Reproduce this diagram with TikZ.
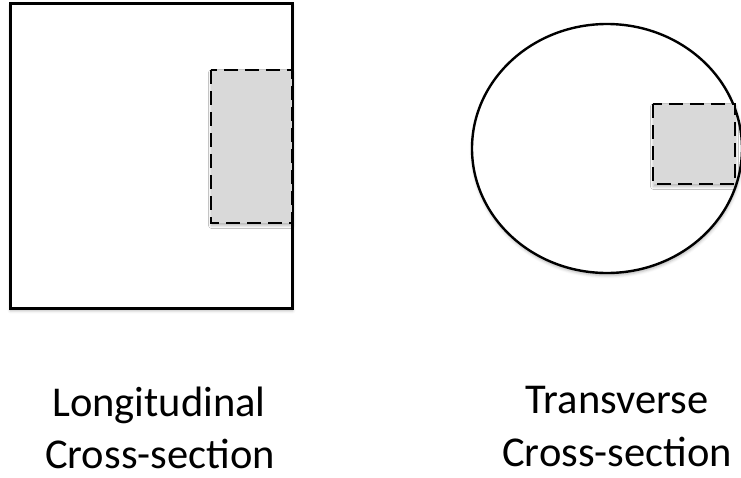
\documentclass[tikz,border=0pt]{standalone}
\usepackage{fontspec}
\setmainfont{Carlito}
\usetikzlibrary{shadows.blur}
\begin{document}
\begin{tikzpicture}[x=1pt,y=-1pt,
  solidedge/.style={draw=black,line width=3pt},
  window/.style={draw=black,fill=black!15,line width=2.8pt,
    dash pattern=on 14pt off 7pt},
  soft/.style={blur shadow={shadow xshift=0.5pt,shadow yshift=-2.5pt,
    shadow blur radius=3pt,shadow opacity=30}},
  caption/.style={anchor=base,inner sep=0pt,
    font=\fontsize{42.5}{52}\selectfont}]
  \useasboundingbox (0,0) rectangle (741,477);

  % longitudinal section: outer wall and sampled window
  \path[solidedge,fill=white,soft] (10,3.5) rectangle (292,308);
  \path[window,soft] (211,70) rectangle (292,223);

  % transverse section: circular outline and sampled window
  \path[draw=black,line width=2.4pt,fill=white,soft] (607,148.5) ellipse [x radius=135,y radius=124.5];
  \path[window,soft] (653,104) rectangle (735,184);

  % captions
  \node[caption] (lon1) at (159,416) {Longitudinal};
  \node[caption] (lon2) at (160,468) {Cross-section};
  \node[caption] (tr1)  at (617,413) {Transverse};
  \node[caption] (tr2)  at (617,466) {Cross-section};
\end{tikzpicture}
\end{document}
